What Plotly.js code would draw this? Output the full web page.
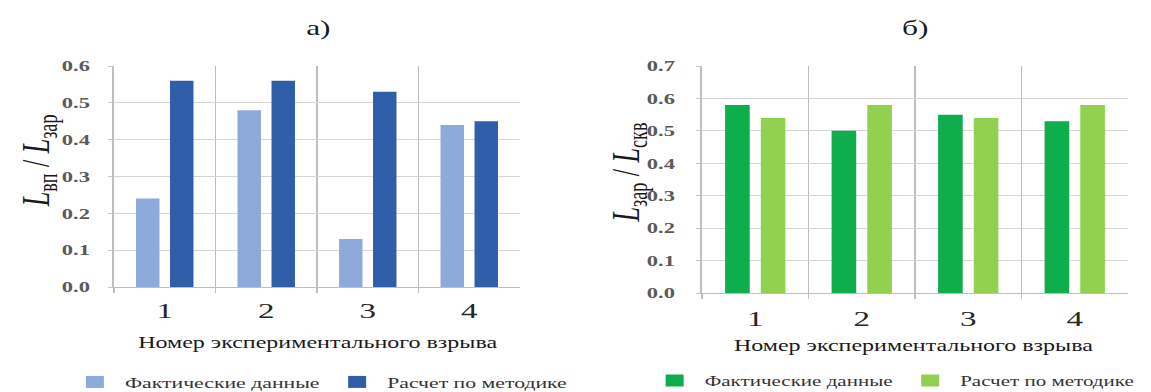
<!DOCTYPE html>
<html>
<head>
<meta charset="utf-8">
<script src="https://cdn.plot.ly/plotly-3.0.1.min.js"></script>
<style>
  html, body { margin: 0; padding: 0; background: #ffffff; overflow: hidden; }
  #frame { position: relative; width: 1151px; height: 392px; overflow: hidden; }
  /* the figure is laid out narrow and widened horizontally as a whole */
  #chart { position: absolute; left: 0; top: 0; width: 767px; height: 392px; transform-origin: 0 0; }
</style>
</head>
<body>
<div id="frame"><div id="chart"></div></div>
<script>
// Experiment numbers shared by both panels
const categories = ['1', '2', '3', '4'];

// Panel а): L_вп / L_зар
const actualA = [0.24, 0.48, 0.13, 0.44];
const methodA = [0.56, 0.56, 0.53, 0.45];

// Panel б): L_зар / L_скв
const actualB = [0.58, 0.50, 0.55, 0.53];
const methodB = [0.54, 0.58, 0.54, 0.58];

const seriesNames = ['Фактические данные', 'Расчет по методике'];
const ticksA = [0, 0.1, 0.2, 0.3, 0.4, 0.5, 0.6];
const ticksB = [0, 0.1, 0.2, 0.3, 0.4, 0.5, 0.6, 0.7];

// Final page size and the narrower drawing width that gets stretched to it
const W = 1151, H = 392, DRAW_W = 767;
document.getElementById('chart').style.transform = 'scaleX(' + (W / DRAW_W) + ')';
const px = v => v / W;
const py = v => 1 - v / H;

const SERIF = 'Liberation Serif, DejaVu Serif, serif';
const gridColor = '#d6d6d6';
const sepColor = '#bdbdbd';

const traces = [
  { type: 'bar', x: categories, y: actualA, name: seriesNames[0],
    marker: { color: '#8eaadb' }, xaxis: 'x', yaxis: 'y', legend: 'legend' },
  { type: 'bar', x: categories, y: methodA, name: seriesNames[1],
    marker: { color: '#2f5fa9' }, xaxis: 'x', yaxis: 'y', legend: 'legend' },
  { type: 'bar', x: categories, y: actualB, name: seriesNames[0],
    marker: { color: '#0fae4c' }, xaxis: 'x2', yaxis: 'y2', legend: 'legend2' },
  { type: 'bar', x: categories, y: methodB, name: seriesNames[1],
    marker: { color: '#92d050' }, xaxis: 'x2', yaxis: 'y2', legend: 'legend2' }
];

function xAxis(domain, anchor, standoff) {
  return {
    domain: domain, anchor: anchor, type: 'category',
    tickson: 'boundaries', ticks: 'outside', ticklen: 5, tickcolor: sepColor,
    showgrid: true, gridcolor: sepColor, gridwidth: 1,
    showline: true, linecolor: '#bfbfbf', linewidth: 1,
    tickfont: { family: SERIF, size: 22, color: '#262626' },
    ticklabelstandoff: standoff,
    automargin: false,
    fixedrange: true
  };
}
function yAxis(domain, anchor, ticks, standoff) {
  return {
    domain: domain, anchor: anchor,
    range: [0, ticks[ticks.length - 1]],
    tickvals: ticks, tickformat: '.1f',
    ticks: 'outside', ticklen: 3, tickcolor: '#c8c8c8',
    showgrid: true, gridcolor: gridColor, gridwidth: 1,
    showline: true, linecolor: '#bfbfbf', linewidth: 1,
    zeroline: false,
    tickfont: { family: SERIF, size: 15, color: '#5a5a5a', weight: 'bold' },
    ticklabelstandoff: standoff,
    automargin: false,
    fixedrange: true
  };
}

function label(text, x, y, size, extra) {
  return Object.assign({
    text: text, x: px(x), y: py(y), xref: 'paper', yref: 'paper',
    xanchor: 'center', yanchor: 'middle', showarrow: false,
    font: { family: SERIF, size: size, color: '#1a1a1a' }
  }, extra || {});
}

const layout = {
  width: DRAW_W, height: H,
  font: { family: SERIF },
  margin: { l: 0, r: 0, t: 0, b: 0, autoexpand: false },
  paper_bgcolor: '#ffffff', plot_bgcolor: '#ffffff',
  barmode: 'group', bargap: 0.33, bargroupgap: 0.31,
  xaxis: xAxis([px(114), px(520)], 'y', 4),
  yaxis: yAxis([py(287), py(66)], 'x', ticksA, 9),
  xaxis2: xAxis([px(702), px(1128)], 'y2', 6),
  yaxis2: yAxis([py(293), py(66)], 'x2', ticksB, 11),
  showlegend: true,
  legend: {
    orientation: 'h', x: px(320), y: py(382), xanchor: 'center', yanchor: 'middle',
    font: { family: SERIF, size: 14.5, color: '#333333' },
    itemwidth: 30, tracegroupgap: 0, bgcolor: 'rgba(0,0,0,0)'
  },
  legend2: {
    orientation: 'h', x: px(893), y: py(381), xanchor: 'center', yanchor: 'middle',
    font: { family: SERIF, size: 14, color: '#333333' },
    itemwidth: 30, tracegroupgap: 0, bgcolor: 'rgba(0,0,0,0)'
  },
  annotations: [
    label('а)', 318, 28, 21),
    label('б)', 915, 28, 21),
    label('<i>L</i><sub>вп</sub> / <i>L</i><sub>зар</sub>', 38, 161, 26, { textangle: -90 }),
    label('<i>L</i><sub>зар</sub> / <i>L</i><sub>скв</sub>', 628, 172, 26, { textangle: -90 }),
    label('Номер экспериментального взрыва', 318, 343, 16),
    label('Номер экспериментального взрыва', 913, 346, 16)
  ]
};

Plotly.newPlot('chart', traces, layout, { displayModeBar: false, staticPlot: true });
</script>
</body>
</html>
